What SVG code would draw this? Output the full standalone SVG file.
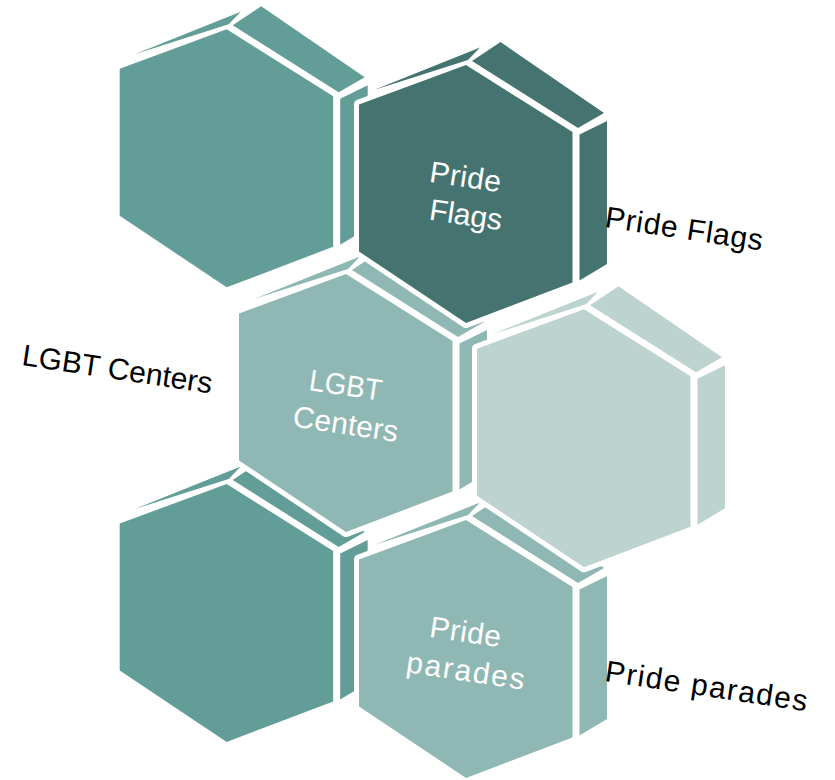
<svg xmlns="http://www.w3.org/2000/svg" xmlns:xlink="http://www.w3.org/1999/xlink" width="835" height="780" viewBox="0 0 835 780">
<style>
.outline{fill:#fff;stroke:#fff;stroke-width:10;stroke-linejoin:round}
.c1{fill:#639D98}
.c2{fill:#457470}
.c3{fill:#8FB7B3}
.c4{fill:#BDD3D0}
.in{font-family:"Liberation Sans",Arial,sans-serif;font-size:30px;fill:#fff;text-anchor:middle}
.out{font-family:"Liberation Sans",Arial,sans-serif;font-size:30px;fill:#000}
</style>
<defs>
<g id="hexgeom">
<polygon points="-92,25 14,-17.5 2,-5"/>
<polygon points="6,-4 34.5,-23 138,48 112,63"/>
<polygon points="113.5,69.5 141,56 141,199 113.5,215.5"/>
<polygon points="0,0 106.5,67 106.5,217.5 0,258 -107,186.5 -107,39.5"/>
</g>
</defs>
<rect width="835" height="780" fill="#fff"/>
<g id="node-top-left" transform="translate(226.7,29.3)">
<use xlink:href="#hexgeom" class="outline"/>
<use xlink:href="#hexgeom" class="c1"/>
</g>
<g id="node-bottom-left" transform="translate(226.7,484)">
<use xlink:href="#hexgeom" class="outline"/>
<use xlink:href="#hexgeom" class="c1"/>
</g>
<g id="node-lgbt-centers" transform="translate(346,274)">
<use xlink:href="#hexgeom" class="outline"/>
<use xlink:href="#hexgeom" class="c3"/>
<text class="in" transform="translate(-1.8,121.3) rotate(8.5)" textLength="73" lengthAdjust="spacingAndGlyphs">LGBT</text>
<text class="in" transform="translate(-1.8,160.2) rotate(8.5)" textLength="106" lengthAdjust="spacing">Centers</text>
</g>
<g id="node-pride-parades" transform="translate(466,520)">
<use xlink:href="#hexgeom" class="outline"/>
<use xlink:href="#hexgeom" class="c3"/>
<text class="in" transform="translate(-2,122) rotate(8.5)" textLength="72" lengthAdjust="spacing">Pride</text>
<text class="in" transform="translate(-1.8,160.9) rotate(8.5)" textLength="119" lengthAdjust="spacing">parades</text>
</g>
<g id="node-pride-flags" transform="translate(466,65)">
<use xlink:href="#hexgeom" class="outline"/>
<use xlink:href="#hexgeom" class="c2"/>
<text class="in" transform="translate(-2,122) rotate(8.5)" textLength="72" lengthAdjust="spacing">Pride</text>
<text class="in" transform="translate(-1.6,159.9) rotate(8.5)" textLength="73" lengthAdjust="spacing">Flags</text>
</g>
<g id="node-right" transform="translate(584,309.3)">
<use xlink:href="#hexgeom" class="outline"/>
<use xlink:href="#hexgeom" class="c4"/>
</g>
<g id="labels">
<text class="out" transform="translate(604,227) rotate(8.5)" textLength="159" lengthAdjust="spacing">Pride Flags</text>
<text class="out" transform="translate(21,365) rotate(8.5)" textLength="192" lengthAdjust="spacing">LGBT Centers</text>
<text class="out" transform="translate(604,681) rotate(8.5)" textLength="204" lengthAdjust="spacing">Pride parades</text>
</g>
<g id="connectors"/>
</svg>
